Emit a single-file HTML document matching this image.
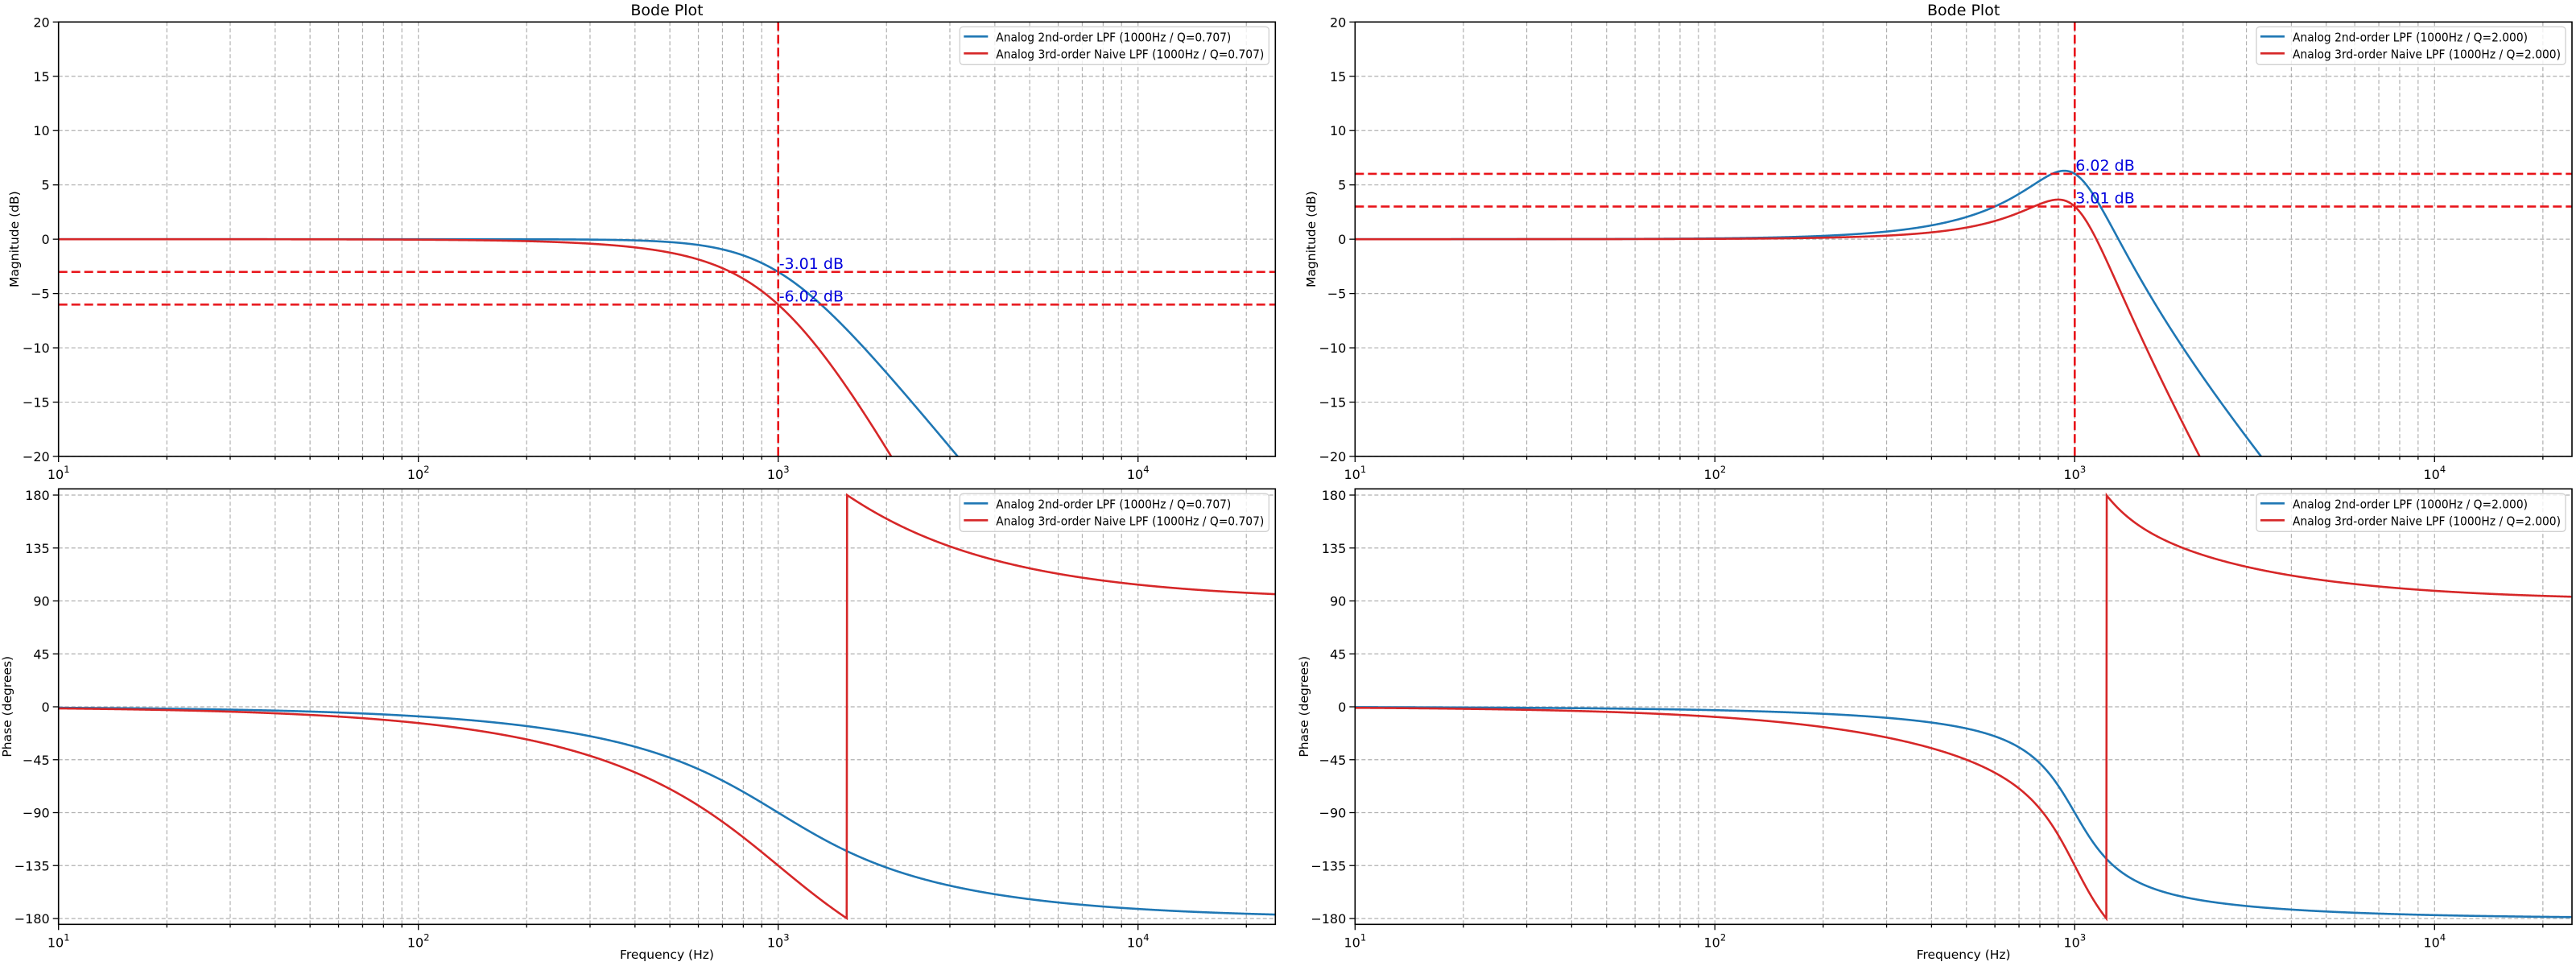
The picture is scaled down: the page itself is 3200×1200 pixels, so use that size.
<!DOCTYPE html>
<html><head><meta charset="utf-8"><style>
html,body{margin:0;padding:0;background:#fff;width:3200px;height:1200px;overflow:hidden;}
svg{display:block;font-family:"DejaVu Sans","Liberation Sans",sans-serif;}
</style></head><body>
<svg id="s" width="3200" height="1200" xmlns="http://www.w3.org/2000/svg"></svg>
<script>
const S=document.getElementById('s');
let out='';
const DEC=447, FMIN=10, FMAX=24000;
function panel(x0,y0,x1,y1,ymin,ymax,ypx0,ypx1,yticks,opts){
  const X=f=>x0+Math.log10(f/FMIN)*DEC;
  const Y=v=>ypx0+(opts.vtop-v)*(ypx1-ypx0)/(opts.vtop-opts.vbot);
  const id='c'+Math.round(x0)+'_'+Math.round(y0);
  out+=`<clipPath id="${id}"><rect x="${x0}" y="${y0}" width="${x1-x0}" height="${y1-y0}"/></clipPath>`;
  let g='';
  for(let d=1;d<=4;d++)for(let m=1;m<=9;m++){const f=m*Math.pow(10,d);if(f<FMIN||f>FMAX)continue;const x=X(f);
    g+=`<line x1="${x}" y1="${y0}" x2="${x}" y2="${y1}"/>`;
    out+=`<line x1="${x}" y1="${y1}" x2="${x}" y2="${y1+(m==1?7:4)}" stroke="#000" stroke-width="1.3"/>`;
    if(m==1) out+=`<text x="${x}" y="${y1+28}" font-size="16" text-anchor="middle">10<tspan dy="-8" font-size="11.5">${d}</tspan></text>`;
  }
  for(const v of yticks){const y=Y(v);g+=`<line x1="${x0}" y1="${y}" x2="${x1}" y2="${y}"/>`;
    out+=`<line x1="${x0-7}" y1="${y}" x2="${x0}" y2="${y}" stroke="#000" stroke-width="1.3"/>`;
    out+=`<text x="${x0-11}" y="${y+6}" font-size="16" text-anchor="end">${String(v).replace('-','\u2212')}</text>`;}
  out+=`<g stroke="#b0b0b0" stroke-width="1.2" stroke-dasharray="5,3">${g}</g>`;
  let c=`<g clip-path="url(#${id})">`;
  for(const s of opts.series){
    let p='';for(let i=0;i<=3000;i++){const f=FMIN*Math.pow(FMAX/FMIN,i/3000);const v=s.fn(f);p+=(i?'L':'M')+X(f).toFixed(2)+','+Y(v).toFixed(2);}
    c+=`<path d="${p}" fill="none" stroke="${s.col}" stroke-width="2.6"/>`;
  }
  for(const h of (opts.hl||[])){c+=`<line x1="${x0}" y1="${Y(h)}" x2="${x1}" y2="${Y(h)}" stroke="#e8141a" stroke-width="2.6" stroke-dasharray="11,5"/>`;}
  if(opts.vl){const x=X(1000);c+=`<line x1="${x}" y1="${y0}" x2="${x}" y2="${y1}" stroke="#e8141a" stroke-width="2.6" stroke-dasharray="11,5"/>`;}
  c+='</g>';out+=c;
  for(const a of (opts.ann||[])){out+=`<text x="${X(1000)+1}" y="${Y(a)-4}" font-size="19" fill="#0000dd">${a.toFixed(2)} dB</text>`;}
  out+=`<rect x="${x0}" y="${y0}" width="${x1-x0}" height="${y1-y0}" fill="none" stroke="#000" stroke-width="1.6"/>`;
  const lx=x1-392, ly=y0+6;
  out+=`<rect x="${lx}" y="${ly}" width="384" height="47" rx="4" fill="#fff" fill-opacity="0.8" stroke="#d0d0d0" stroke-width="1.3"/>`;
  out+=`<line x1="${lx+5}" y1="${ly+12}" x2="${lx+35}" y2="${ly+12}" stroke="#1f77b4" stroke-width="2.6"/>`;
  out+=`<line x1="${lx+5}" y1="${ly+33}" x2="${lx+35}" y2="${ly+33}" stroke="#d62728" stroke-width="2.6"/>`;
  out+=`<text x="${lx+45}" y="${ly+18}" font-size="15" textLength="292" lengthAdjust="spacingAndGlyphs">Analog 2nd-order LPF (1000Hz / Q=${opts.q})</text>`;
  out+=`<text x="${lx+45}" y="${ly+39}" font-size="15" textLength="333" lengthAdjust="spacingAndGlyphs">Analog 3rd-order Naive LPF (1000Hz / Q=${opts.q})</text>`;
  const lbx=x0-opts.lo, lby=(y0+y1)/2;
  out+=`<text transform="translate(${lbx},${lby}) rotate(-90)" font-size="15.5" text-anchor="middle" dominant-baseline="middle">${opts.ylabel}</text>`;
  if(opts.title) out+=`<text x="${(x0+x1)/2}" y="19" font-size="19" text-anchor="middle">${opts.title}</text>`;
  if(opts.xlabel) out+=`<text x="${(x0+x1)/2}" y="1191" font-size="15.5" text-anchor="middle">${opts.xlabel}</text>`;
}
function H(f,Q,third){const x=f/1000;let re=1-x*x, im=x/Q;
  if(third){const r2=re-im*x, i2=im+re*x; re=r2; im=i2;}
  return [re,im];}
const mag=(f,Q,t)=>{const [r,i]=H(f,Q,t);return -10*Math.log10(r*r+i*i);};
const ph=(f,Q,t)=>{const [r,i]=H(f,Q,t);return Math.atan2(-i,r)*180/Math.PI;};
const L=[72.7,1584.3],R=[1683.3,3195];
for(const [xs,Q,q] of [[L,0.707,'0.707'],[R,2,'2.000']]){
  const hl=Q<1?[-3.01,-6.02]:[6.02,3.01];
  panel(xs[0],27.3,xs[1],567,0,0,27.3,567,[-20,-15,-10,-5,0,5,10,15,20],{vtop:20,vbot:-20,q,ylabel:'Magnitude (dB)',lo:54,title:'Bode Plot',hl,vl:true,ann:hl,
    series:[{col:'#1f77b4',fn:f=>mag(f,Q,false)},{col:'#d62728',fn:f=>mag(f,Q,true)}]});
  panel(xs[0],607.3,xs[1],1148.3,0,0,615,1141,[-180,-135,-90,-45,0,45,90,135,180],{vtop:180,vbot:-180,q,ylabel:'Phase (degrees)',lo:63,xlabel:'Frequency (Hz)',
    series:[{col:'#1f77b4',fn:f=>ph(f,Q,false)},{col:'#d62728',fn:f=>ph(f,Q,true)}]});
}
S.innerHTML=out;
</script>
</body></html>
